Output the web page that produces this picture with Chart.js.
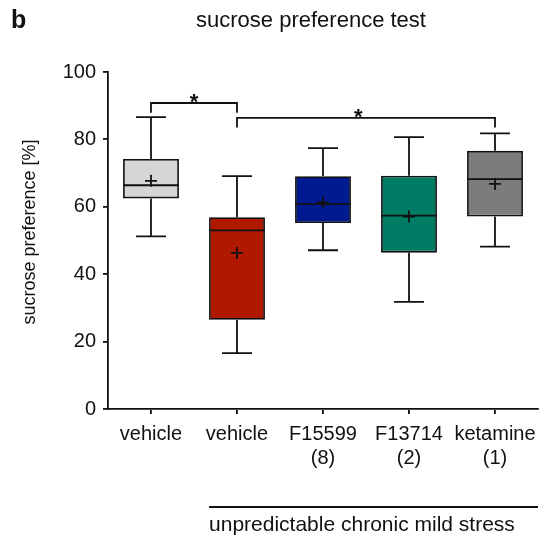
<!DOCTYPE html>
<html>
<head>
<meta charset="utf-8">
<script src="https://cdn.jsdelivr.net/npm/chart.js@4"></script>
<style>
  body { margin: 0; background: #fff; }
  #wrap { width: 545px; height: 545px; }
</style>
</head>
<body>
<div id="wrap"><canvas id="chart"></canvas></div>
<script>
// groups along the x axis
const labels = ['vehicle', 'vehicle', ['F15599', '(8)'], ['F13714', '(2)'], ['ketamine', '(1)']];

// box plot values [%]
const whiskerLow  = [51.2, 16.6, 47.1, 31.8, 48.2];
const quart1      = [62.5, 26.5, 55.2, 46.4, 57.1];
const medians     = [66.4, 53.0, 60.8, 57.4, 68.2];
const quart3      = [74.2, 56.9, 69.1, 69.2, 76.6];
const whiskerHigh = [86.6, 69.1, 77.4, 80.7, 81.8];
const means       = [67.7, 46.3, 61.3, 57.1, 66.8];

const boxColors = ['#d6d6d6', '#b01800', '#001a8f', '#007b64', '#7c7c7c'];

// significance brackets: from group, to group, bar level, leg end, star position
const brFrom  = [0, 1];
const brTo    = [1, 4];
const brTop   = [90.8, 86.4];
const brLeg   = [87.9, 83.5];
const brStar  = [0.5, 0.47];

const FONT = 'Arial, "Liberation Sans", sans-serif';
const INK = '#111';
const LW = 1.8;

const boxExtras = {
    id: 'boxExtras',
    afterDatasetsDraw(chart) {
        const { ctx, scales: { x, y } } = chart;
        ctx.save();
        ctx.strokeStyle = INK;
        ctx.lineWidth = LW;

        const bars = chart.getDatasetMeta(0).data;
        labels.forEach((l, i) => {
            const cx = x.getPixelForValue(i);
            const half = bars[i].width / 2;
            const cap = 15;

            ctx.beginPath();
            // whiskers
            ctx.moveTo(cx, y.getPixelForValue(quart3[i]));
            ctx.lineTo(cx, y.getPixelForValue(whiskerHigh[i]));
            ctx.moveTo(cx - cap, y.getPixelForValue(whiskerHigh[i]));
            ctx.lineTo(cx + cap, y.getPixelForValue(whiskerHigh[i]));
            ctx.moveTo(cx, y.getPixelForValue(quart1[i]));
            ctx.lineTo(cx, y.getPixelForValue(whiskerLow[i]));
            ctx.moveTo(cx - cap, y.getPixelForValue(whiskerLow[i]));
            ctx.lineTo(cx + cap, y.getPixelForValue(whiskerLow[i]));
            // median
            ctx.moveTo(cx - half, y.getPixelForValue(medians[i]));
            ctx.lineTo(cx + half, y.getPixelForValue(medians[i]));
            // mean "+"
            const my = y.getPixelForValue(means[i]);
            ctx.moveTo(cx - 6, my);
            ctx.lineTo(cx + 6, my);
            ctx.moveTo(cx, my - 6);
            ctx.lineTo(cx, my + 6);
            ctx.stroke();
        });

        // brackets
        ctx.fillStyle = INK;
        ctx.font = 'bold 22px ' + FONT;
        ctx.textAlign = 'center';
        ctx.textBaseline = 'alphabetic';
        brFrom.forEach((f, k) => {
            const x1 = x.getPixelForValue(f);
            const x2 = x.getPixelForValue(brTo[k]);
            const yt = y.getPixelForValue(brTop[k]);
            const yl = y.getPixelForValue(brLeg[k]);
            ctx.beginPath();
            ctx.moveTo(x1, yl);
            ctx.lineTo(x1, yt);
            ctx.lineTo(x2, yt);
            ctx.lineTo(x2, yl);
            ctx.stroke();
            ctx.fillText('*', x1 + (x2 - x1) * brStar[k], yt + 6);
        });
        ctx.restore();
    },
    afterDraw(chart) {
        const { ctx, chartArea, scales: { x, y } } = chart;
        ctx.save();
        ctx.fillStyle = INK;

        // panel letter
        ctx.font = 'bold 25px ' + FONT;
        ctx.textAlign = 'left';
        ctx.textBaseline = 'middle';
        ctx.fillText('b', 11, 21);

        // title
        ctx.font = '22px ' + FONT;
        ctx.textAlign = 'center';
        ctx.fillText('sucrose preference test', 311, 21);

        // y axis title
        ctx.save();
        ctx.translate(30, 232);
        ctx.rotate(-Math.PI / 2);
        ctx.font = '18px ' + FONT;
        ctx.fillText('sucrose preference [%]', 0, 0);
        ctx.restore();

        // group line under the stress groups
        const half = chart.getDatasetMeta(0).data[1].width / 2;
        const lx = x.getPixelForValue(1) - half;
        ctx.strokeStyle = INK;
        ctx.lineWidth = LW;
        ctx.beginPath();
        ctx.moveTo(lx, 507);
        ctx.lineTo(chartArea.right, 507);
        ctx.stroke();

        ctx.font = '21px ' + FONT;
        ctx.textAlign = 'left';
        ctx.fillText('unpredictable chronic mild stress', lx, 525);
        ctx.restore();
    }
};

new Chart(document.getElementById('chart'), {
    type: 'bar',
    data: {
        labels: labels,
        datasets: [{
            data: quart1.map((q, i) => [q, quart3[i]]),
            backgroundColor: boxColors,
            borderColor: INK,
            borderWidth: LW,
            borderSkipped: false,
            barPercentage: 0.65,
            categoryPercentage: 1
        }]
    },
    options: {
        animation: false,
        responsive: true,
        maintainAspectRatio: false,
        layout: { padding: { top: 72, left: 0, right: 7, bottom: 0 } },
        plugins: {
            legend: { display: false },
            tooltip: { enabled: false }
        },
        scales: {
            x: {
                afterFit: (s) => { s.height = 136; },
                grid: { drawOnChartArea: false, offset: false, tickLength: 5, color: INK, lineWidth: LW },
                border: { color: INK, width: LW },
                ticks: {
                    color: INK,
                    padding: 8,
                    maxRotation: 0,
                    autoSkip: false,
                    font: { family: FONT, size: 20, lineHeight: 1.2 }
                }
            },
            y: {
                min: 0,
                max: 100,
                afterFit: (s) => { s.width = 108; },
                grid: { drawOnChartArea: false, tickLength: 5, color: INK, lineWidth: LW },
                border: { color: INK, width: LW },
                ticks: {
                    stepSize: 20,
                    color: INK,
                    padding: 7,
                    font: { family: FONT, size: 20 }
                }
            }
        }
    },
    plugins: [boxExtras]
});
</script>
</body>
</html>
